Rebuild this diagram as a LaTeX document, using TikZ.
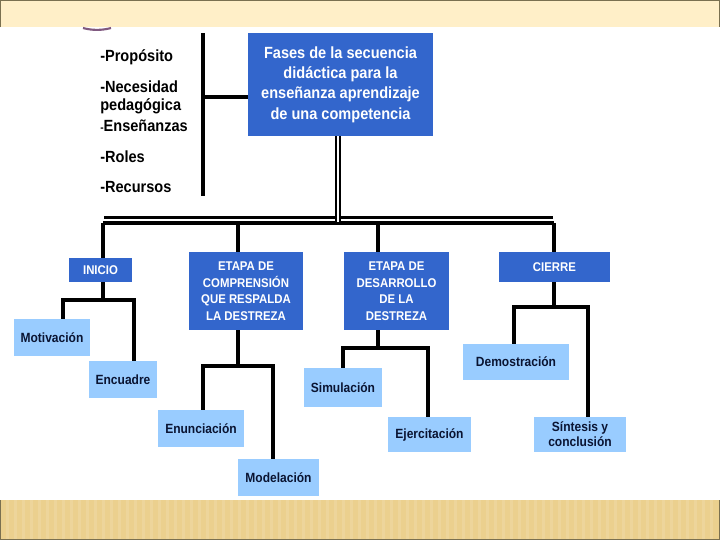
\documentclass[tikz,border=0pt]{standalone}
\usepackage{fontspec}
\setmainfont{Liberation Sans}[FakeStretch=0.9]
\definecolor{fase}{RGB}{51,102,204}
\definecolor{paso}{RGB}{153,204,255}
\definecolor{pasotxt}{RGB}{10,20,50}
\definecolor{franja}{RGB}{255,239,200}
\definecolor{pie}{RGB}{235,208,142}
\definecolor{borde}{RGB}{122,112,80}
\begin{document}
\begin{tikzpicture}[x=0.025cm,y=-0.025cm,
    caja/.style 2 args={minimum width=#1*0.025cm, minimum height=#2*0.025cm},
    fasebox/.style={fill=fase, text=white, font=\bfseries\fontsize{9}{11.8}\selectfont, align=center, inner sep=0pt},
    titulobox/.style={fill=fase, text=white, font=\bfseries\fontsize{11.5}{14.5}\selectfont, align=center, inner sep=0pt},
    pasobox/.style={fill=paso, text=pasotxt, font=\bfseries\fontsize{9.5}{10.5}\selectfont, align=center, inner sep=0pt},
    item/.style={anchor=west, inner sep=0pt, font=\bfseries\fontsize{11.5}{13.5}\selectfont},
    rama/.style={line width=2.5pt},
    bus/.style={line width=2.2pt}]
  \useasboundingbox (0,0) rectangle (720,540);
  % franjas de la diapositiva
  \fill[franja] (0,0) rectangle (720,27);
  \draw[borde, line width=1pt] (0.5,27) -- (0.5,0.5) -- (719.5,0.5) -- (719.5,27);
  \fill[pie] (0,500) rectangle (720,540);
  \foreach \x in {6,14,...,714} \fill[white, opacity=0.12] (\x,500) rectangle ++(3,40);
  \draw[borde, line width=1pt] (0.5,500) -- (0.5,539.5) -- (719.5,539.5) -- (719.5,500);
  \draw[gray!70!violet, line width=1.5pt] (83,28) .. controls (92,30.5) and (102,30.5) .. (111,28);

  % titulo y lista de la izquierda
  \node at (340.5,84.5) (titulo) [titulobox, caja={185}{103}] {Fases de la secuencia\\did\'actica para la\\ense\~nanza aprendizaje\\de una competencia};
  \node at (100,57) (proposito) [item] {-Prop\'osito};
  \node at (100,87) (necesidad) [item] {-Necesidad};
  \node at (100,106) (pedagogica) [item] {pedag\'ogica};
  \node at (100,126) (ensenanzas) [item] {{\fontsize{8}{8}\selectfont-}Ense\~nanzas};
  \node at (100,157) (roles) [item] {-Roles};
  \node at (100,187) (recursos) [item] {-Recursos};
  \coordinate (listaA) at (203,33);
  \coordinate (listaB) at (203,196);
  \coordinate (listaC) at (203,97);
  \draw[rama] (listaA) -- (listaB);
  \draw[rama] (listaC) -- (listaC -| titulo.west);

  % fases
  \node at (100.5,270) (inicio) [fasebox, caja={63}{24}] {INICIO};
  \node at (246,291) (comprension) [fasebox, caja={114}{78}] {ETAPA DE\\COMPRENSI\'ON\\QUE RESPALDA\\LA DESTREZA};
  \node at (396.5,291) (desarrollo) [fasebox, caja={105}{78}] {ETAPA DE\\DESARROLLO\\DE LA\\DESTREZA};
  \node at (554.5,267) (cierre) [fasebox, caja={111}{30}] {CIERRE};

  % pasos
  \node at (52,337.5) (motivacion) [pasobox, caja={76}{37}] {Motivaci\'on};
  \node at (123,379.5) (encuadre) [pasobox, caja={68}{37}] {Encuadre};
  \node at (201,428.5) (enunciacion) [pasobox, caja={86}{37}] {Enunciaci\'on};
  \node at (278.5,477.5) (modelacion) [pasobox, caja={81}{37}] {Modelaci\'on};
  \node at (343,387.5) (simulacion) [pasobox, caja={78}{39}] {Simulaci\'on};
  \node at (429.5,434.5) (ejercitacion) [pasobox, caja={83}{35}] {Ejercitaci\'on};
  \node at (516,362) (demostracion) [pasobox, caja={106}{36}] {Demostraci\'on};
  \node at (580,434.5) (sintesis) [pasobox, caja={92}{35}] {S\'intesis y\\conclusi\'on};

  % barra doble
  \coordinate (busA) at (104,217.5);
  \coordinate (busB) at (553,217.5);
  \coordinate (busC) at (103,223);
  \coordinate (busD) at (554,223);
  \draw[bus] (busA) -- (busB);
  \draw[bus] (busC) -- (busD);
  \coordinate (bajada) at (338,222);
  \draw[double, double distance=2pt, line width=1.1pt] (titulo.south -| bajada) -- (bajada);
  \coordinate (t1) at (103,223);
  \coordinate (t2) at (238,223);
  \coordinate (t3) at (378,223);
  \coordinate (t4) at (554,223);
  \draw[rama] (t1) -- (t1 |- inicio.north);
  \draw[rama] (t2) -- (t2 |- comprension.north);
  \draw[rama] (t3) -- (t3 |- desarrollo.north);
  \draw[rama] (t4) -- (t4 |- cierre.north);

  % ramas de INICIO
  \coordinate (iJ) at (103,300);
  \coordinate (iL) at (63,300);
  \coordinate (iR) at (134,300);
  \draw[rama] (iJ |- inicio.south) -- (iJ);
  \draw[rama] (iL |- motivacion.north) -- (iL) -- (iR) -- (iR |- encuadre.north);
  % ramas de comprension
  \coordinate (cJ) at (238,366);
  \coordinate (cL) at (203,366);
  \coordinate (cR) at (273,366);
  \draw[rama] (cJ |- comprension.south) -- (cJ);
  \draw[rama] (cL |- enunciacion.north) -- (cL) -- (cR) -- (cR |- modelacion.north);
  % ramas de desarrollo
  \coordinate (dJ) at (378,348);
  \coordinate (dL) at (343,348);
  \coordinate (dR) at (428,348);
  \draw[rama] (dJ |- desarrollo.south) -- (dJ);
  \draw[rama] (dL |- simulacion.north) -- (dL) -- (dR) -- (dR |- ejercitacion.north);
  % ramas de cierre
  \coordinate (eJ) at (554,307);
  \coordinate (eL) at (514,307);
  \coordinate (eR) at (588,307);
  \draw[rama] (eJ |- cierre.south) -- (eJ);
  \draw[rama] (eL |- demostracion.north) -- (eL) -- (eR) -- (eR |- sintesis.north);
\end{tikzpicture}
\end{document}
